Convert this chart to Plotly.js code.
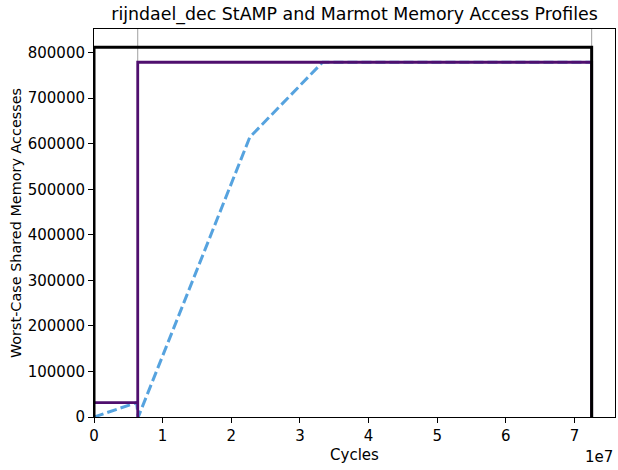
<!DOCTYPE html>
<html><head><meta charset="utf-8">
<script src="https://cdn.plot.ly/plotly-3.0.1.min.js"></script>
<style>body{margin:0;padding:0;background:#fff}#chart{width:618px;height:470px}</style>
</head><body><div id="chart"></div>
<script>
// StAMP (black) bound
const stampX = [0, 0, 7.25e7, 7.25e7];
const stampY = [0, 811700, 811700, 0];
// Marmot step profile (purple)
const marmotX = [0, 6.37e6, 6.37e6, 6.37e6, 7.25e7, 7.25e7];
const marmotY = [31600, 31600, 0, 779000, 779000, 0];
// Observed cumulative accesses (blue dashed)
const obsX = [0, 6.2e6, 6.45e6, 2.27e7, 3.33e7, 7.25e7];
const obsY = [0, 31600, 0, 614500, 779000, 779000];
// Phase markers (thin gray verticals)
const phaseX = [6.37e6, 7.25e7];
const yTop = 852000;
const xTickVals = [0, 1e7, 2e7, 3e7, 4e7, 5e7, 6e7, 7e7];
const xTickText = ['0','1','2','3','4','5','6','7'];
const yTickVals = [0,100000,200000,300000,400000,500000,600000,700000,800000];
const yTickText = ['0','100000','200000','300000','400000','500000','600000','700000','800000'];

const traces = [];
phaseX.forEach(px => traces.push({x:[px,px], y:[0,yTop], mode:'lines', line:{color:'#a0a0a0', width:1}, hoverinfo:'skip', showlegend:false}));
traces.push({x:obsX, y:obsY, mode:'lines', line:{color:'#56a3df', width:3, dash:'10px,4px'}, showlegend:false});
traces.push({x:marmotX, y:marmotY, mode:'lines', line:{color:'#4f0f6e', width:2.8}, showlegend:false});
traces.push({x:stampX, y:stampY, mode:'lines', line:{color:'#000000', width:3}, showlegend:false});

const font = {family:'DejaVu Sans, sans-serif', color:'#000'};
const layout = {
  width:618, height:470,
  margin:{l:94, r:3, t:29, b:53},
  paper_bgcolor:'#fff', plot_bgcolor:'#fff',
  font:Object.assign({size:14}, font),
  title:{text:'rijndael_dec StAMP and Marmot Memory Access Profiles', font:Object.assign({size:17.4}, font), xref:'paper', x:0.5, xanchor:'center', y:0.97, yanchor:'middle'},
  xaxis:{range:[0, 7.59e7], tickvals:xTickVals, ticktext:xTickText, ticks:'outside', ticklen:5, tickwidth:1, tickcolor:'#000',
    showline:true, linecolor:'#000', linewidth:1, mirror:true, showgrid:false, zeroline:false,
    tickfont:Object.assign({size:15}, font),
    title:{text:'Cycles', font:Object.assign({size:15}, font), standoff:5}},
  yaxis:{range:[0, yTop], tickvals:yTickVals, ticktext:yTickText, ticks:'outside', ticklen:5, tickwidth:1, tickcolor:'#000',
    showline:true, linecolor:'#000', linewidth:1, mirror:true, showgrid:false, zeroline:false,
    tickfont:Object.assign({size:15}, font),
    title:{text:'Worst-Case Shared Memory Accesses', font:Object.assign({size:14.4}, font), standoff:2}},
  annotations:[{text:'1e7', xref:'paper', yref:'paper', x:1, y:0, xanchor:'right', yanchor:'top', yshift:-29, showarrow:false, font:Object.assign({size:15}, font)}]
};
Plotly.newPlot('chart', traces, layout, {displayModeBar:false, staticPlot:true});
</script></body></html>
